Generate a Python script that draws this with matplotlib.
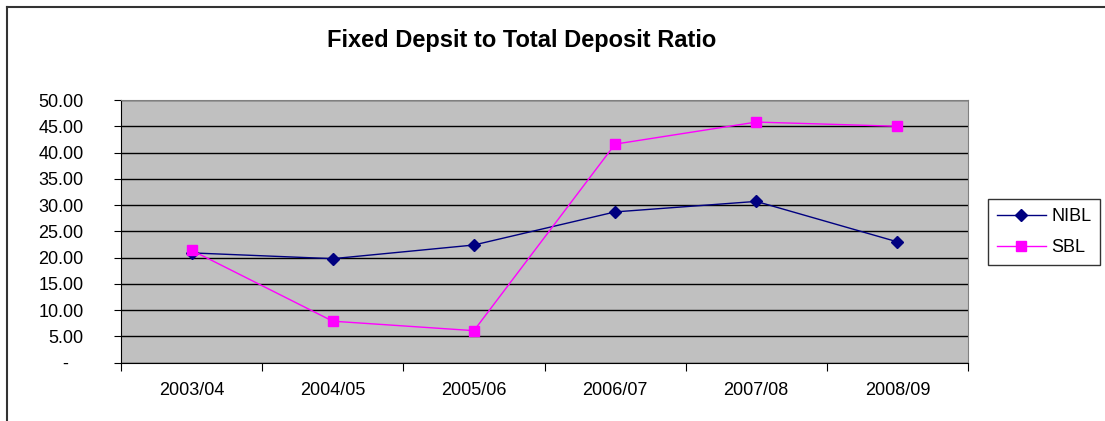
import numpy as np
import matplotlib.pyplot as plt
from matplotlib.lines import Line2D

years = ["2003/04", "2004/05", "2005/06", "2006/07", "2007/08", "2008/09"]
nibl = [20.9, 19.8, 22.4, 28.7, 30.7, 23.0]
sbl = [21.4, 7.9, 6.1, 41.6, 45.8, 45.0]
yticks = [0, 5, 10, 15, 20, 25, 30, 35, 40, 45, 50]
ylabels = ["-   "] + ["%.2f" % v for v in yticks[1:]]

plt.rcParams['font.family'] = ['Liberation Sans', 'DejaVu Sans']

fig = plt.figure(figsize=(11.05, 4.21), dpi=100)
ax = fig.add_axes([121/1105, 58.3/421, 847/1105, 262.7/421])
ax.set_facecolor("#C0C0C0")

x = np.arange(len(years))
ax.plot(x, nibl, color="#000080", lw=1, marker="D", ms=6, label="NIBL", zorder=3)
ax.plot(x, sbl, color="#FF00FF", lw=1, marker="s", ms=7.5, label="SBL", zorder=3)

ax.set_xlim(-0.5, len(years) - 0.5)
ax.set_ylim(0, 50)
ax.set_yticks(yticks)
ax.set_yticklabels(ylabels, fontsize=13)
ax.yaxis.grid(True, color="black", lw=1)
ax.set_axisbelow(True)

ax.set_xticks(np.arange(len(years) + 1) - 0.5)
ax.set_xticklabels([])
ax.set_xticks(x, minor=True)
ax.set_xticklabels(years, minor=True, fontsize=13)
ax.tick_params(axis="x", which="major", length=6, color="black", direction="out")
ax.tick_params(axis="x", which="minor", length=0, pad=14)
ax.tick_params(axis="y", length=5, color="black", pad=22)

for s in ["top", "right"]:
    ax.spines[s].set_color("#808080")
for s in ["left", "bottom"]:
    ax.spines[s].set_color("black")

fig.text(522/1105, 1 - 40/421, "Fixed Depsit to Total Deposit Ratio", ha="center", va="center",
         fontsize=17, fontweight="bold")

leg = ax.legend(loc="upper left", bbox_to_anchor=(988/1105, 1 - 199/421),
                bbox_transform=fig.transFigure, borderaxespad=0, frameon=True, fancybox=False,
                edgecolor="black", fontsize=13, handlelength=2.7, handletextpad=0.3,
                borderpad=0.5, labelspacing=0.78)
leg.get_frame().set_linewidth(1)

# chart border
fig.add_artist(Line2D([7/1105, 1], [1 - 7/421, 1 - 7/421], color="#333333", lw=1.5))
fig.add_artist(Line2D([7/1105, 7/1105], [0, 1 - 7/421], color="#333333", lw=1.5))

fig.savefig("out.png", dpi=100)
